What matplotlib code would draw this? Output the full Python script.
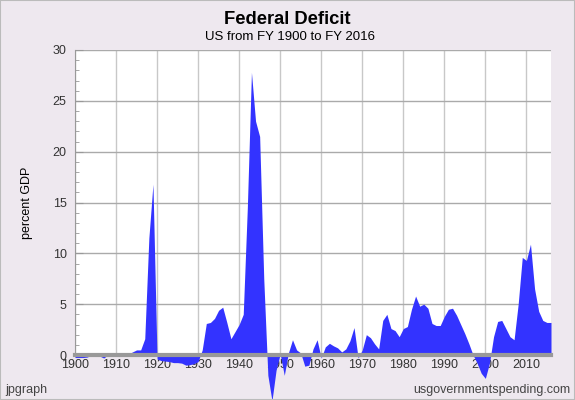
import numpy as np
import matplotlib
matplotlib.use("Agg")
import matplotlib.pyplot as plt
from matplotlib.ticker import MultipleLocator

years = np.arange(1900, 2017)

# deficit, percent of GDP (negative = surplus)
deficit = [
    -0.25, -0.25, -0.25, -0.2, 0.0, 0.0, -0.1, -0.3, 0.0, 0.15,      # 1900s
    0.0, 0.0, 0.0, 0.1, 0.3, 0.5, 0.5, 1.6, 11.5, 16.8,              # 1910s
    -0.4, -0.55, -0.6, -0.65, -0.75, -0.75, -0.8, -1.0, -0.95, -0.85,  # 1920s
    -0.65, 0.5, 3.1, 3.2, 3.6, 4.4, 4.7, 3.2, 1.6, 2.3,              # 1930s
    3.0, 4.0, 14.5, 27.8, 23.0, 21.5, 7.5, -2.0, -4.5, -1.5,         # 1940s
    0.1, -2.0, 0.2, 1.5, 0.5, 0.2, -1.1, -1.0, 0.6, 1.5,             # 1950s
    -0.3, 0.8, 1.15, 0.9, 0.7, 0.3, 0.6, 1.4, 2.7, -0.3,             # 1960s
    0.5, 2.0, 1.7, 1.1, 0.6, 3.4, 4.0, 2.6, 2.4, 1.8,                # 1970s
    2.6, 2.8, 4.5, 5.8, 4.8, 5.0, 4.6, 3.1, 2.9, 2.9,                # 1980s
    3.8, 4.5, 4.6, 3.9, 3.0, 2.1, 1.1, 0.0, -0.8, -1.8,              # 1990s
    -2.3, -0.8, 1.8, 3.3, 3.4, 2.6, 1.8, 1.5, 5.0, 9.6,              # 2000s
    9.3, 10.9, 6.5, 4.3, 3.4, 3.2, 3.2,                              # 2010s
]

title = "Federal Deficit"
subtitle = "US from FY 1900 to FY 2016"
ylabel = "percent GDP"

BG = "#EEE8EF"
BLUE = "#3333FF"
GRAY = "#999999"

plt.rcParams["font.family"] = ["Liberation Sans", "DejaVu Sans"]

fig = plt.figure(figsize=(5.75, 4.0), dpi=100, facecolor=BG)
ax = fig.add_axes([75 / 575, 1 - 355 / 400, 476 / 575, 305 / 400])
ax.set_facecolor("white")

ax.fill_between(years, deficit, 0, color=BLUE, lw=0, clip_on=False, zorder=3)
ax.axhline(0, color=GRAY, lw=3, zorder=4, clip_on=False)

ax.set_xlim(1900, 2016)
ax.set_ylim(0, 30)
ax.xaxis.set_major_locator(MultipleLocator(10))
ax.yaxis.set_major_locator(MultipleLocator(5))
ax.yaxis.set_minor_locator(MultipleLocator(1))
ax.grid(axis="x", color="#C8C8C8", lw=1)
ax.grid(axis="y", color="#AAAAAA", lw=1)
ax.set_axisbelow(True)

for s in ["top", "right", "bottom"]:
    ax.spines[s].set_visible(False)
ax.spines["left"].set_color(GRAY)

ax.tick_params(axis="y", which="both", direction="in", color=GRAY, labelsize=9,
               labelcolor="#333333", pad=6)
ax.tick_params(axis="y", which="major", length=6)
ax.tick_params(axis="y", which="minor", length=3)
ax.tick_params(axis="x", length=0, labelsize=9, labelcolor="#333333", pad=3)

ax.set_ylabel(ylabel, fontsize=9, labelpad=14)

fig.text(0.50, 0.952, title, ha="center", va="center", fontsize=13.2, fontweight="bold")
fig.text(0.505, 0.908, subtitle, ha="center", va="center", fontsize=9.5)
fig.text(5 / 575, 0.025, "jpgraph", ha="left", va="center", fontsize=9, color="#444444")
fig.text(570 / 575, 0.025, "usgovernmentspending.com", ha="right", va="center",
         fontsize=9, color="#444444")

fig.patches.append(plt.Rectangle((0, 0), 1, 1, transform=fig.transFigure, fill=False,
                                 edgecolor="#BBBBBB", lw=1.5))

fig.savefig("out.png", dpi=100, facecolor=BG)
